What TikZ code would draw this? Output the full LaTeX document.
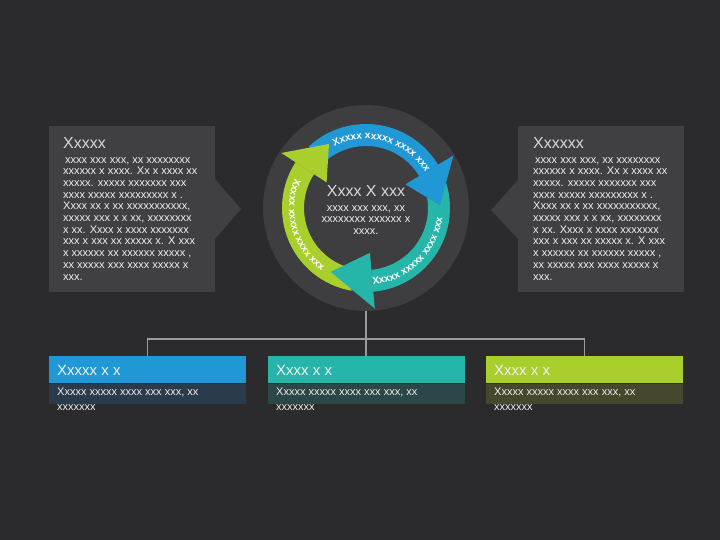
\documentclass[tikz,border=0pt]{standalone}
\usepackage{fontspec}
\setmainfont{Liberation Sans}
\usetikzlibrary{decorations.text}
\definecolor{bgc}{HTML}{2B2B2D}
\definecolor{panelc}{HTML}{404042}
\definecolor{circc}{HTML}{3E3E40}
\definecolor{bluec}{HTML}{2098D6}
\definecolor{tealc}{HTML}{26B6A9}
\definecolor{greenc}{HTML}{A9CF2D}
\definecolor{bluesub}{HTML}{2A3C4B}
\definecolor{tealsub}{HTML}{2C4747}
\definecolor{greensub}{HTML}{45482D}
\definecolor{connc}{HTML}{9C9C9C}
\definecolor{textc}{HTML}{F0F0F0}
\definecolor{titlec}{HTML}{D8D8D8}
\newcommand\arcfont{\bfseries\fontsize{10}{10}\selectfont}
\begin{document}
\begin{tikzpicture}[x=1pt,y=1pt,
  panel/.style={fill=panelc, draw=none, inner sep=0, minimum width=166, minimum height=166},
  ptitle/.style={text=titlec, inner sep=0, font=\fontsize{16}{18}\selectfont},
  pbody/.style={text=textc, inner sep=0, align=left, font=\fontsize{11}{11.7}\selectfont},
  hdr/.style={draw=none, inner sep=0, minimum width=197, minimum height=27},
  subrow/.style={draw=none, inner sep=0, minimum width=197, minimum height=20},
  hdrtext/.style={text=textc, inner sep=0, font=\fontsize{15}{17}\selectfont},
  subtext/.style={text=textc, inner sep=0, align=left, font=\fontsize{11}{15}\selectfont},
  conn/.style={draw=connc, line width=1.5pt},
  arctext/.style={decorate, decoration={text along path, text align=center, text color=white, text={|\arcfont|#1}}}
]
\useasboundingbox (0,0) rectangle (720,540);
\fill[bgc] (0,0) rectangle (720,540);

% side panels
\node[panel, anchor=north west] (lp) at (49,414) {};
\fill[panelc] (215,361) -- (241,331) -- (215,301) -- cycle;
\node[panel, anchor=north west] (rp) at (518,414) {};
\fill[panelc] (519,361) -- (491,330) -- (519,300) -- cycle;

\node[ptitle, anchor=west] (lt) at (63,397) {Xxxxx};
\node[pbody, anchor=north west] (lb) at (63,383) {\hspace{2pt}xxxx xxx xxx, xx xxxxxxxx\\xxxxxx x xxxx. Xx x xxxx xx\\xxxxx. xxxxx xxxxxxx xxx\\xxxx xxxxx xxxxxxxxx x .\\Xxxx xx x xx xxxxxxxxxxx,\\xxxxx xxx x x xx, xxxxxxxx\\x xx. Xxxx x xxxx xxxxxxx\\xxx x xxx xx xxxxx x. X xxx\\x xxxxxx xx xxxxxx xxxxx ,\\xx xxxxx xxx xxxx xxxxx x\\xxx.};

\node[ptitle, anchor=west] (rt) at (533,397) {Xxxxxx};
\node[pbody, anchor=north west] (rb) at (533,383) {\hspace{2pt}xxxx xxx xxx, xx xxxxxxxx\\xxxxxx x xxxx. Xx x xxxx xx\\xxxxx. xxxxx xxxxxxx xxx\\xxxx xxxxx xxxxxxxxx x .\\Xxxx xx x xx xxxxxxxxxxx,\\xxxxx xxx x x xx, xxxxxxxx\\x xx. Xxxx x xxxx xxxxxxx\\xxx x xxx xx xxxxx x. X xxx\\x xxxxxx xx xxxxxx xxxxx ,\\xx xxxxx xxx xxxx xxxxx x\\xxx.};

% central circle
\node[circle, fill=circc, minimum size=206, inner sep=0] (circ) at (366,332) {};

\begin{scope}[shift={(circ.center)}]
  % bands
  \fill[bluec] (133:84) arc[start angle=133, end angle=31, radius=84] -- (31:62) arc[start angle=31, end angle=133, radius=62] -- cycle;
  \fill[tealc] (20:84) arc[start angle=20, end angle=-85, radius=84] -- (-85:62) arc[start angle=-85, end angle=20, radius=62] -- cycle;
  \fill[greenc] (260:84) arc[start angle=260, end angle=147, radius=84] -- (147:62) arc[start angle=147, end angle=260, radius=62] -- cycle;
  % heads
  \fill[bluec] (31:102) -- (2:74) -- (31:46) -- cycle;
  \fill[tealc] (-85:101) -- (-119:73) -- (-85:45) -- cycle;
  \fill[greenc] (147:101) -- (120:74) -- (147:47) -- cycle;
  % texts on bands
  \path[arctext={Xxxxx xxxxx xxxx xxx}] (122:69) arc[start angle=122, end angle=26, radius=69];
  \path[arctext={Xxxxx xxxxx xxxx xxx}] (-96:77) arc[start angle=-96, end angle=4, radius=77];
  \path[arctext={Xxxxx xxxxx xxxx xxx}] (150:77) arc[start angle=150, end angle=242, radius=77];
\end{scope}

\node[ptitle, anchor=center] (ct) at (366,349) {Xxxx X xxx};
\node[pbody, align=center, anchor=north, font=\fontsize{11}{11.5}\selectfont] (cb) at (366,335) {xxxx xxx xxx, xx\\xxxxxxxx xxxxxx x\\xxxx.};

% bottom boxes
\node[hdr, fill=bluec, anchor=north west] (h1) at (49,184) {};
\node[subrow, fill=bluesub, anchor=north west] (s1) at (h1.south west) {};
\node[hdr, fill=tealc, anchor=north west] (h2) at (267.5,184) {};
\node[subrow, fill=tealsub, anchor=north west] (s2) at (h2.south west) {};
\node[hdr, fill=greenc, anchor=north west] (h3) at (486,184) {};
\node[subrow, fill=greensub, anchor=north west] (s3) at (h3.south west) {};

\node[hdrtext, anchor=west] (t1) at (57,170) {Xxxxx x x};
\node[hdrtext, anchor=west] (t2) at (276,170) {Xxxx x x};
\node[hdrtext, anchor=west] (t3) at (494,170) {Xxxx x x};
\node[subtext, anchor=north west] (b1) at (57,152) {Xxxxx xxxxx xxxx xxx xxx, xx\\xxxxxxx};
\node[subtext, anchor=north west] (b2) at (276,152) {Xxxxx xxxxx xxxx xxx xxx, xx\\xxxxxxx};
\node[subtext, anchor=north west] (b3) at (494,152) {Xxxxx xxxxx xxxx xxx xxx, xx\\xxxxxxx};

% connectors
\coordinate (hub) at (366,201);
\draw[conn] (circ.south) -- (circ.south |- h2.north);
\draw[conn] (h1.north) |- (hub) -| (h3.north);
\end{tikzpicture}
\end{document}
